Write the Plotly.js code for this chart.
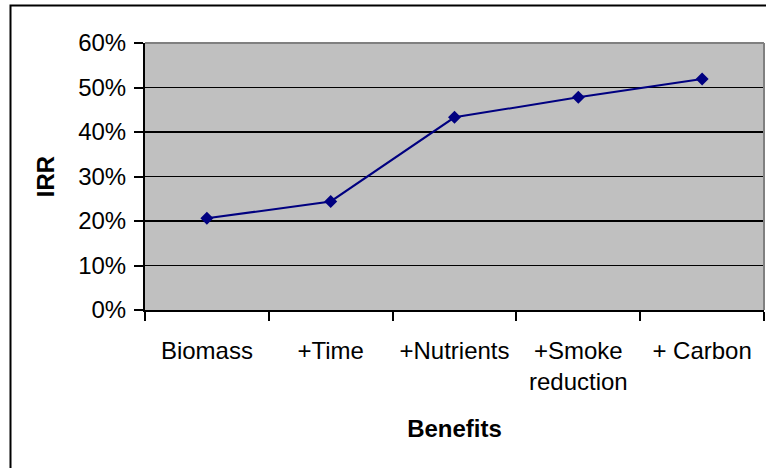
<!DOCTYPE html>
<html>
<head>
<meta charset="utf-8">
<script src="https://cdn.plot.ly/plotly-3.0.1.min.js"></script>
<style>
  html, body { margin: 0; padding: 0; background: #fff; }
  #chart { width: 766px; height: 468px; }
</style>
</head>
<body>
<div id="chart"></div>
<script>
const categories = ["Biomass", "+Time", "+Nutrients", "+Smoke<br>reduction", "+ Carbon"];
const irrValues = [0.206, 0.244, 0.433, 0.478, 0.519];
const yTickValues = [0, 0.1, 0.2, 0.3, 0.4, 0.5, 0.6];

const W = 766, H = 468;
const M = {l: 145, r: 2, t: 43, b: 158};
const pw = W - M.l - M.r, ph = H - M.t - M.b;
const px = x => (x - M.l) / pw;
const py = y => (H - M.b - y) / ph;

const trace = {
  x: categories,
  y: irrValues,
  type: 'scatter',
  mode: 'lines+markers',
  line: {color: '#000080', width: 2},
  marker: {symbol: 'diamond', size: 10, color: '#000080'},
  hoverinfo: 'skip'
};

const font = {family: '"Liberation Sans", Arial, sans-serif', size: 24, color: '#000'};

const layout = {
  width: W, height: H,
  margin: M,
  paper_bgcolor: '#ffffff',
  plot_bgcolor: '#c0c0c0',
  showlegend: false,
  font: font,
  xaxis: {
    type: 'category',
    range: [-0.5, 4.5],
    tickson: 'boundaries',
    ticks: 'outside', ticklen: 9, tickwidth: 2, tickcolor: '#000',
    showline: true, linecolor: '#000', linewidth: 2,
    showgrid: false, zeroline: false,
    ticklabelstandoff: 18,
    tickfont: font,
    title: {text: '<b>Benefits</b>', font: font, standoff: 26}
  },
  yaxis: {
    range: [0, 0.6],
    tickvals: yTickValues,
    tickformat: '.0%',
    ticks: 'outside', ticklen: 9, tickwidth: 2, tickcolor: '#000',
    showline: true, linecolor: '#000', linewidth: 2,
    showgrid: true, gridcolor: '#000', gridwidth: 1.8,
    zeroline: false,
    ticklabelstandoff: 3,
    tickfont: font,
    title: {text: '<b>IRR</b>', font: font, standoff: 17}
  },
  shapes: [
    {type: 'line', xref: 'paper', yref: 'paper', x0: 0, x1: 1, y0: 1, y1: 1,
     line: {color: '#808080', width: 2}, layer: 'above'},
    {type: 'line', xref: 'paper', yref: 'paper', x0: 1, x1: 1, y0: 0, y1: 1,
     line: {color: '#808080', width: 2}, layer: 'above'},
    {type: 'rect', xref: 'paper', yref: 'paper',
     x0: px(10.5), x1: px(780), y0: py(480), y1: py(5.5),
     line: {color: '#000', width: 2}, fillcolor: 'rgba(0,0,0,0)', layer: 'above'}
  ]
};

Plotly.newPlot('chart', [trace], layout, {staticPlot: true, displayModeBar: false});
</script>
</body>
</html>
